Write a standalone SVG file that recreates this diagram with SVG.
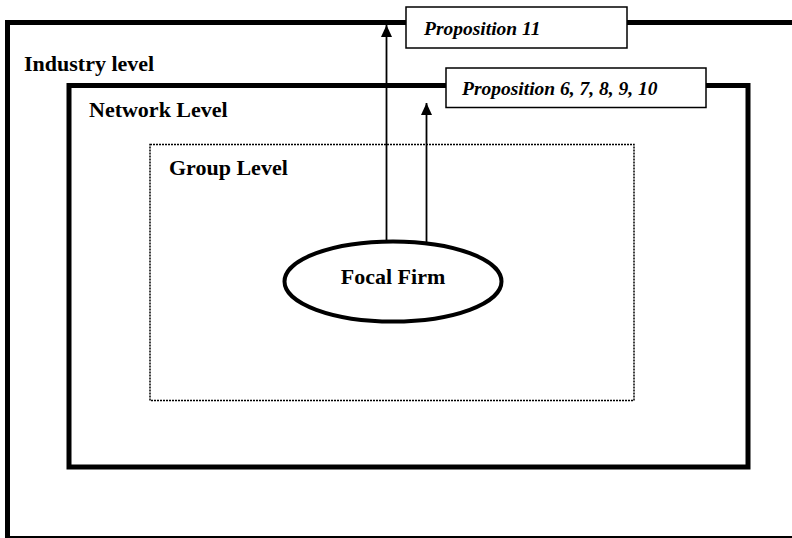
<svg xmlns="http://www.w3.org/2000/svg" width="792" height="538" viewBox="0 0 792 538">
<style>
.lvl{fill:none;stroke:#000;stroke-width:5}
.lbl{font-family:"Liberation Serif","Times New Roman",serif;font-weight:bold;font-size:22px;fill:#000}
.prop{font-family:"Liberation Serif","Times New Roman",serif;font-weight:bold;font-style:italic;font-size:19.5px;fill:#000}
.pbox{fill:#fff;stroke:#000;stroke-width:1.5}
.conn{stroke:#000;stroke-width:1.8;fill:none;marker-end:url(#ah)}
</style>
<defs>
<marker id="ah" markerUnits="userSpaceOnUse" markerWidth="12" markerHeight="11" refX="12" refY="5.5" orient="auto" viewBox="0 0 12 11">
<path d="M0,0 L12,5.5 L0,11 Z" fill="#000"/>
</marker>
</defs>
<rect width="792" height="538" fill="#fff"/>
<g id="industry">
<rect class="lvl" x="7.5" y="22.5" width="800" height="516"/>
<text class="lbl" x="24" y="71">Industry level</text>
</g>
<g id="network">
<rect class="lvl" x="69" y="85.5" width="679" height="381.5"/>
<text class="lbl" x="89" y="117">Network Level</text>
</g>
<g id="group">
<rect x="150" y="144.5" width="484" height="256" fill="none" stroke="#000" stroke-width="1.5" stroke-dasharray="2 1"/>
<text class="lbl" x="169" y="175">Group Level</text>
</g>
<g id="connectors">
<line class="conn" x1="386.5" y1="241" x2="386.5" y2="25"/>
<line class="conn" x1="426.5" y1="242" x2="426.5" y2="103"/>
</g>
<g id="focal">
<ellipse cx="393" cy="281.5" rx="108.5" ry="40" fill="#fff" stroke="#000" stroke-width="4"/>
<text class="lbl" x="393" y="284" text-anchor="middle">Focal Firm</text>
</g>
<g id="prop11">
<rect class="pbox" x="406" y="7" width="221" height="41"/>
<text class="prop" x="424" y="35">Proposition 11</text>
</g>
<g id="prop6">
<rect class="pbox" x="446" y="68" width="260" height="39.5"/>
<text class="prop" x="462" y="95">Proposition 6, 7, 8, 9, 10</text>
</g>
</svg>
